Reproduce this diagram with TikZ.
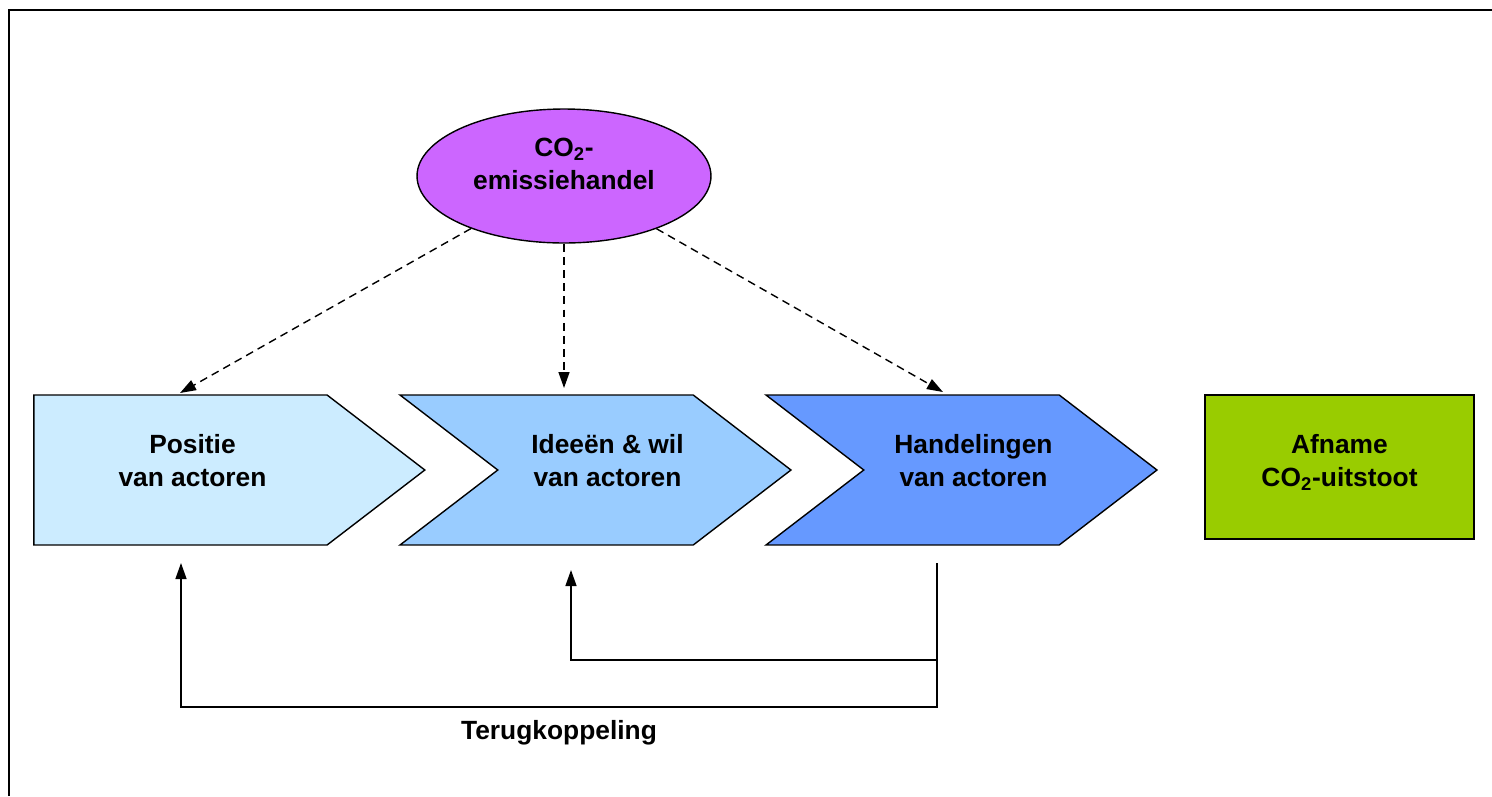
\documentclass[tikz,border=0pt]{standalone}
\usepackage{fontspec}
\setmainfont{Liberation Sans}
\usetikzlibrary{shapes.geometric, shapes.symbols, arrows.meta, positioning}
\definecolor{paars}{HTML}{CC66FF}
\definecolor{lichtblauw}{HTML}{CCECFF}
\definecolor{middenblauw}{HTML}{99CCFF}
\definecolor{donkerblauw}{HTML}{6699FF}
\definecolor{groen}{HTML}{99CC00}
\newcommand{\omhoog}[1]{\rule[-#1]{0pt}{0pt}}
\newcommand{\inspring}{\hspace*{0.48cm}}

\begin{document}
\begin{tikzpicture}[x=0.02cm, y=-0.02cm,
    font=\fontsize{15}{18.8}\selectfont\bfseries,
    pijl/.style={signal, draw, line width=0.8pt, signal to=east,
        signal pointer angle=75, minimum height=3cm, minimum width=7.82cm,
        inner sep=0pt, align=center},
    stippel/.style={line width=0.8pt, dash pattern=on 4.5pt off 3pt,
        -{Triangle[length=3.2mm, width=2.2mm]}},
    terug/.style={line width=0.8pt, -{Triangle[length=3.2mm, width=2.2mm]}}]
    \useasboundingbox (0,0) rectangle (1492,796);

    % The frame round the figure
    \draw[line width=1.4pt] (9,796) -- (9,10) -- (1492,10);

    % Emission trading
    \node[ellipse, draw, line width=0.8pt, fill=paars, inner sep=0pt,
        minimum width=5.88cm, minimum height=2.68cm, align=center]
        (emis) at (564,176) {CO\textsubscript{2}-\\emissiehandel\omhoog{0.5cm}};

    % The three steps
    \node[pijl, fill=lichtblauw] (pos) at (180.5,470)
        {\inspring Positie\\\inspring van actoren\omhoog{0.4cm}};
    \node[pijl, fill=middenblauw, signal from=west] (ide) at (595.5,470)
        {\inspring Ideeën \& wil\\\inspring van actoren\omhoog{0.4cm}};
    \node[pijl, fill=donkerblauw, signal from=west] (hand) at (961.5,470)
        {\inspring Handelingen\\\inspring van actoren\omhoog{0.4cm}};

    % Result
    \node[draw, line width=0.8pt, fill=groen, minimum width=5.38cm,
        minimum height=2.88cm, inner sep=0pt, align=center]
        (afn) at (1339.5,467) {Afname\\CO\textsubscript{2}-uitstoot\omhoog{0.25cm}};

    % Influence of the trading
    \coordinate (posboven) at (180,393);
    \coordinate (ideboven) at (564,388);
    \coordinate (handboven) at (943,392);
    \draw[stippel] (emis) -- (posboven);
    \draw[stippel] (emis) -- (ideboven);
    \draw[stippel] (emis) -- (handboven);

    % Feedback
    \coordinate (handonder) at (937,563);
    \coordinate (posonder) at (181,563);
    \coordinate (ideonder) at (571,570);
    \draw[terug] (handonder) |- (937,707) -| (posonder);
    \draw[terug] (937,660) -| (ideonder);
    \node (terugk) at (559,733) {Terugkoppeling};
\end{tikzpicture}
\end{document}
